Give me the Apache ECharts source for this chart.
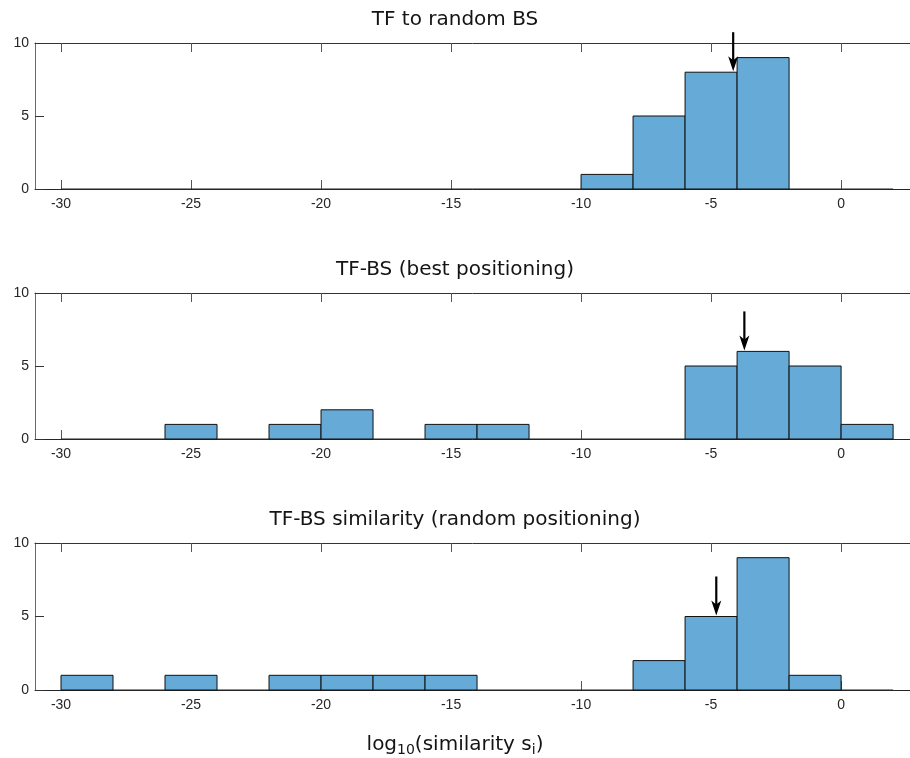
<!DOCTYPE html>
<html>
<head>
<meta charset="utf-8">
<script src="https://cdn.jsdelivr.net/npm/echarts@6/dist/echarts.min.js"></script>
<style>
html,body{margin:0;padding:0;background:#fff;}
#c{width:910px;height:758px;}
</style>
</head>
<body>
<div id="c"></div>
<script>
// ---- data ----
const titles = ["TF to random BS", "TF-BS (best positioning)", "TF-BS similarity (random positioning)"];
const binEdges = [-30, -28, -26, -24, -22, -20, -18, -16, -14, -12, -10, -8, -6, -4, -2, 0, 2];
const countsTop = [0, 0, 0, 0, 0, 0, 0, 0, 0, 0, 1, 5, 8, 9, 0, 0];
const countsMid = [0, 0, 1, 0, 1, 2, 0, 1, 1, 0, 0, 0, 5, 6, 5, 1];
const countsBot = [1, 0, 1, 0, 1, 1, 1, 1, 0, 0, 0, 2, 5, 9, 1, 0];
const arrowX = [-4.15, -3.72, -4.8];
const arrowY = [8, 6, 5];
const xTicks = [-30, -25, -20, -15, -10, -5, 0];
const yTicks = [0, 5, 10];
const xMin = -31, xMax = 2.65, yMin = 0, yMax = 10;

const allCounts = [countsTop, countsMid, countsBot];
const gridTops = [43, 293, 543];
const gridHeights = [146, 146, 147];
const axisColor = '#262626';
const fillColor = 'rgb(102,170,215)';

const grids = [], xAxes = [], yAxes = [], series = [], texts = [];
for (let p = 0; p < 3; p++) {
  grids.push({left: 35, right: 0, top: gridTops[p], height: gridHeights[p]});
  // bottom axis
  xAxes.push({
    type: 'value', gridIndex: p, min: xMin, max: xMax, position: 'bottom',
    axisLine: {show: true, onZero: false, lineStyle: {color: axisColor, width: 1}},
    axisTick: {show: true, inside: true, length: 9, lineStyle: {color: '#555'}, customValues: xTicks},
    axisLabel: {show: true, customValues: xTicks, margin: 8, color: axisColor,
      fontFamily: 'Liberation Sans', fontSize: 14},
    splitLine: {show: false}
  });
  // top axis (box line)
  xAxes.push({
    type: 'value', gridIndex: p, min: xMin, max: xMax, position: 'top',
    axisLine: {show: true, onZero: false, lineStyle: {color: '#333', width: 1}},
    axisTick: {show: true, inside: true, length: 9, lineStyle: {color: '#555'}, customValues: xTicks},
    axisLabel: {show: false},
    splitLine: {show: false}
  });
  yAxes.push({
    type: 'value', gridIndex: p, min: yMin, max: yMax, interval: 5, position: 'left',
    axisLine: {show: true, onZero: false, lineStyle: {color: '#6a6a6a', width: 1}},
    axisTick: {show: true, inside: true, length: 9, lineStyle: {color: '#333'}},
    axisLabel: {show: true, margin: 6, color: axisColor, fontFamily: 'Liberation Sans', fontSize: 14},
    splitLine: {show: false}
  });
  const data = allCounts[p].map((c, i) => [binEdges[i], binEdges[i + 1], c]);
  series.push({
    type: 'custom', xAxisIndex: 2 * p, yAxisIndex: p,
    encode: {x: [0, 1], y: 2},
    data: data,
    z: 1,
    renderItem: function (params, api) {
      const x0 = api.value(0), x1 = api.value(1), c = api.value(2);
      const p0 = api.coord([x0, c]);
      const p1 = api.coord([x1, 0]);
      if (c === 0) {
        return {type: 'line', shape: {x1: p0[0], y1: p1[1], x2: p1[0], y2: p1[1]},
          style: {stroke: '#222', lineWidth: 1}};
      }
      return {type: 'rect', shape: {x: p0[0], y: p0[1], width: p1[0] - p0[0], height: p1[1] - p0[1]},
        style: {fill: fillColor, stroke: '#111', lineWidth: 1}};
    }
  });
  series.push({
    type: 'custom', xAxisIndex: 2 * p, yAxisIndex: p,
    encode: {x: 0, y: 1},
    data: [[arrowX[p], arrowY[p]]],
    clip: false, z: 5,
    renderItem: function (params, api) {
      const pt = api.coord([api.value(0), api.value(1)]);
      const x = pt[0], y = pt[1] - 1;
      const len = 39;
      return {type: 'group', children: [
        {type: 'line', shape: {x1: x, y1: y - len, x2: x, y2: y - 10}, style: {stroke: '#000', lineWidth: 2.2}},
        {type: 'polygon', shape: {points: [[x - 5, y - 15], [x, y - 11], [x + 5, y - 15], [x, y]]},
          style: {fill: '#000'}}
      ]};
    }
  });
  texts.push({
    type: 'text', left: 'center', top: gridTops[p] - 33,
    style: {text: titles[p], fontFamily: 'DejaVu Sans', fontSize: 20, fill: '#141414'}
  });
}
// xlabel
texts.push({
  type: 'text', x: 455, y: 745,
  style: {
    text: '{n|log}{s|10}{n|(similarity s}{s|i}{n|)}',
    align: 'center', verticalAlign: 'middle',
    rich: {
      n: {fontFamily: 'DejaVu Sans', fontSize: 20, fill: '#141414', color: '#141414'},
      s: {fontFamily: 'DejaVu Sans', fontSize: 14, fill: '#141414', color: '#141414', verticalAlign: 'bottom', padding: [10, 0, 0, 0]}
    }
  }
});

const chart = echarts.init(document.getElementById('c'), null, {renderer: 'canvas'});
chart.setOption({
  animation: false,
  backgroundColor: '#fff',
  grid: grids,
  xAxis: xAxes,
  yAxis: yAxes,
  series: series,
  graphic: texts
});
</script>
</body>
</html>
